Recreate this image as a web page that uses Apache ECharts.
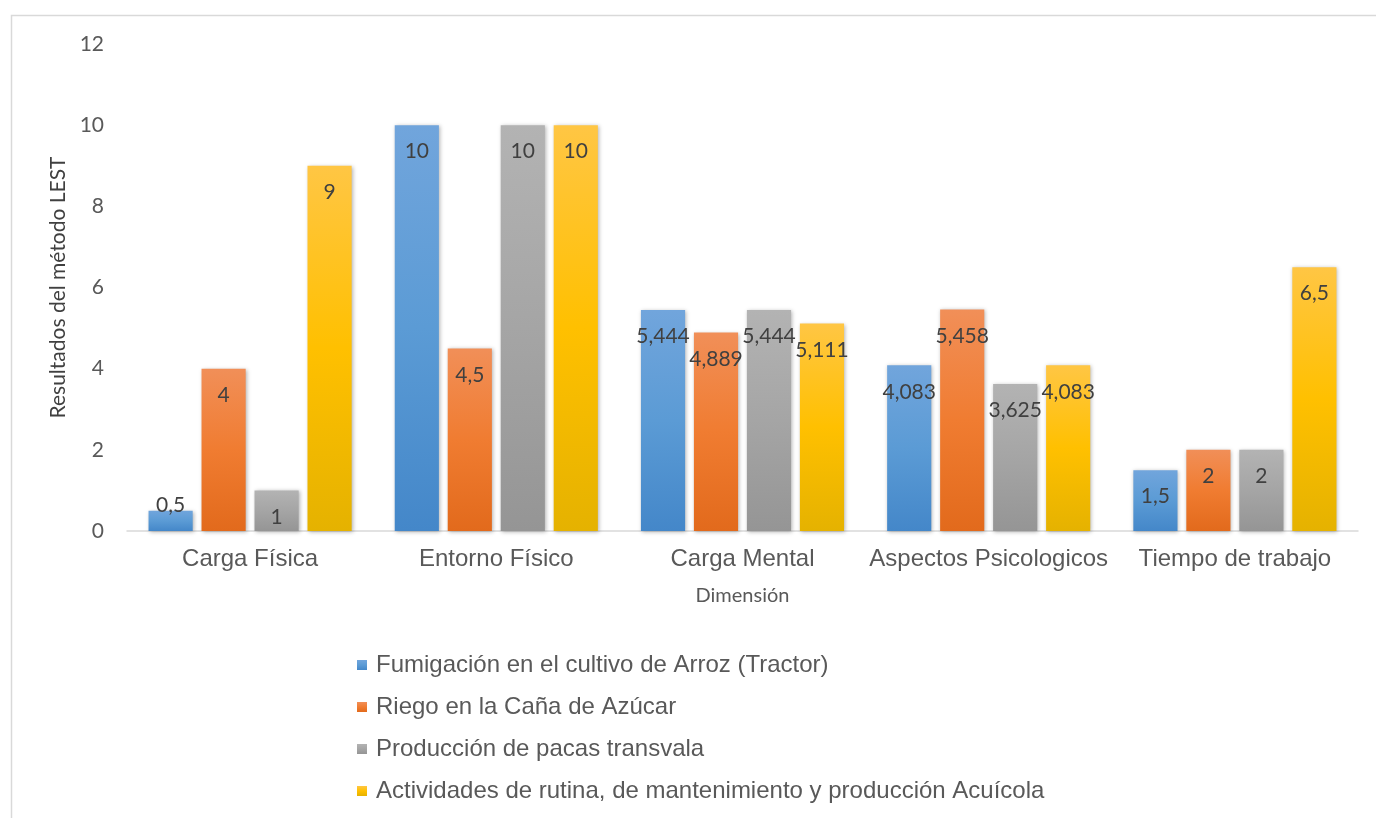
<!DOCTYPE html>
<html>
<head>
<meta charset="utf-8">
<script src="https://cdn.jsdelivr.net/npm/echarts@6/dist/echarts.min.js"></script>
<style>
html, body { margin: 0; padding: 0; background: #fff; }
#main { width: 1376px; height: 818px; }
</style>
</head>
<body>
<div id="main"></div>
<script>
var categories = ['Carga Física', 'Entorno Físico', 'Carga Mental', 'Aspectos Psicologicos', 'Tiempo de trabajo'];
var seriesNames = [
  'Fumigación en el cultivo de Arroz (Tractor)',
  'Riego en la Caña de Azúcar',
  'Producción de pacas transvala',
  'Actividades de rutina, de mantenimiento y producción Acuícola'
];
var fumigacion = [0.5, 10, 5.444, 4.083, 1.5];
var riego = [4, 4.5, 4.889, 5.458, 2];
var pacas = [1, 10, 5.444, 3.625, 2];
var acuicola = [9, 10, 5.111, 4.083, 6.5];
var yTicks = [0, 2, 4, 6, 8, 10, 12];

// top / middle / bottom colours of each bar gradient
var palettes = [
  ['#71a5dc', '#5b9bd5', '#4487c9'],
  ['#f18f58', '#f07c31', '#e26a1c'],
  ['#b3b3b3', '#a5a5a5', '#959595'],
  ['#ffc644', '#ffc000', '#e5b200']
];

function grad(p) {
  return new echarts.graphic.LinearGradient(0, 0, 0, 1, [
    { offset: 0, color: p[0] },
    { offset: 0.5, color: p[1] },
    { offset: 1, color: p[2] }
  ]);
}

function fmt(v) {
  return String(v).replace('.', ',');
}

function makeSeries(name, values, idx) {
  return {
    name: name,
    type: 'bar',
    barGap: '20%',
    barCategoryGap: '17.5%',
    itemStyle: {
      color: grad(palettes[idx]),
      shadowBlur: 4,
      shadowColor: 'rgba(0,0,0,0.3)',
      shadowOffsetX: 1,
      shadowOffsetY: 1
    },
    label: {
      show: true,
      position: 'insideTop',
      distance: 16,
      fontFamily: 'Lato',
      fontSize: 21,
      color: '#404040',
      formatter: function (p) { return fmt(p.value); }
    },
    data: values.map(function (v) {
      if (v < 1) {
        return { value: v, label: { position: 'insideBottom', distance: 15 } };
      }
      return v;
    })
  };
}

var myChart = echarts.init(document.getElementById('main'));
var option = {
  animation: false,
  backgroundColor: '#fff',
  graphic: [{
    type: 'rect',
    left: 9,
    top: 13,
    shape: { width: 1420, height: 900 },
    style: { fill: 'none', stroke: '#d9d9d9', lineWidth: 1.5 },
    silent: true
  }],
  grid: { left: 127, right: 18, top: 44, bottom: 287, containLabel: false },
  legend: {
    orient: 'vertical',
    left: 352,
    top: 648,
    itemWidth: 10,
    itemHeight: 10,
    itemGap: 18,
    icon: 'rect',
    textStyle: {
      fontFamily: 'Liberation Sans',
      fontSize: 24,
      lineHeight: 24,
      color: '#595959',
      padding: [0, 0, 0, 4]
    },
    data: seriesNames
  },
  xAxis: {
    type: 'category',
    data: categories,
    name: 'Dimensión',
    nameLocation: 'middle',
    nameGap: 55,
    nameTextStyle: { fontFamily: 'Lato', fontSize: 20, color: '#595959' },
    axisLine: { lineStyle: { color: '#d9d9d9', width: 1.5 } },
    axisTick: { show: false },
    axisLabel: {
      interval: 0,
      fontFamily: 'Liberation Sans',
      fontSize: 24,
      color: '#595959',
      margin: 16
    }
  },
  yAxis: {
    type: 'value',
    min: 0,
    max: 12,
    interval: 2,
    name: 'Resultados del método LEST',
    nameLocation: 'middle',
    nameGap: 56,
    nameTextStyle: { fontFamily: 'Lato', fontSize: 21, color: '#404040' },
    axisLine: { show: false },
    axisTick: { show: false },
    splitLine: { show: false },
    axisLabel: {
      fontFamily: 'Lato',
      fontSize: 21,
      color: '#595959',
      margin: 23,
      formatter: function (v) { return yTicks.indexOf(v) >= 0 ? String(v) : ''; }
    }
  },
  series: [
    makeSeries(seriesNames[0], fumigacion, 0),
    makeSeries(seriesNames[1], riego, 1),
    makeSeries(seriesNames[2], pacas, 2),
    makeSeries(seriesNames[3], acuicola, 3)
  ]
};
myChart.setOption(option);
</script>
</body>
</html>
